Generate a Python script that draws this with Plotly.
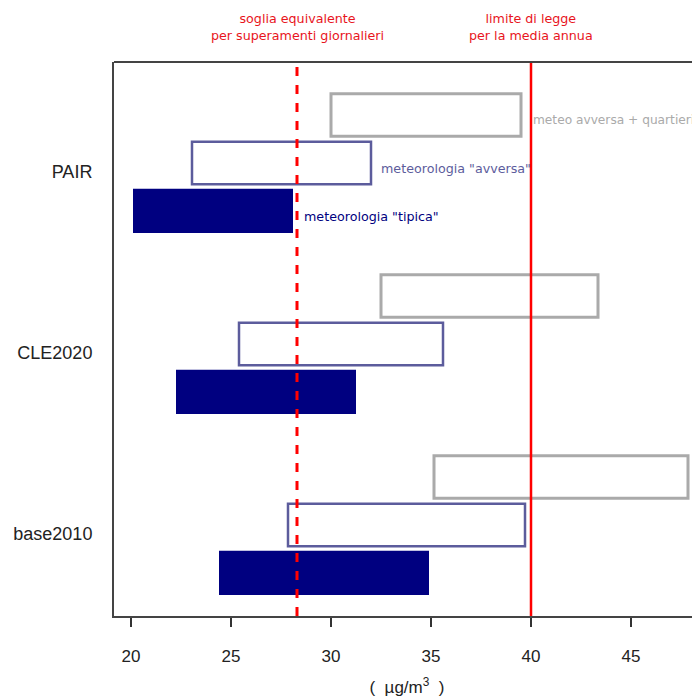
import plotly.graph_objects as go

categories = ["PAIR", "CLE2020", "base2010"]
tipica_min = [20.1, 22.25, 24.4]
tipica_max = [28.1, 31.25, 34.9]
avversa_min = [23.05, 25.4, 27.85]
avversa_max = [32.0, 35.6, 39.7]
quartieri_min = [30.0, 32.5, 35.15]
quartieri_max = [39.5, 43.35, 47.85]
soglia_giornaliera = 28.3
limite_annuo = 40
x_ticks = [20, 25, 30, 35, 40, 45]

NAVY = "#000080"
SLATE = "#5c5c9c"
GREY = "#aaaaaa"
RED = "#ff0000"
TXT_RED = "#e8141c"

pos = list(range(len(categories)))
off = 0.265
bw = 0.235

fig = go.Figure()
fig.add_trace(go.Bar(
    orientation="h", y=[p - off for p in pos], base=quartieri_min,
    x=[b - a for a, b in zip(quartieri_min, quartieri_max)], width=bw,
    marker=dict(color="white", line=dict(color=GREY, width=3)),
    name="meteo avversa + quartieri"))
fig.add_trace(go.Bar(
    orientation="h", y=pos, base=avversa_min,
    x=[b - a for a, b in zip(avversa_min, avversa_max)], width=bw,
    marker=dict(color="white", line=dict(color=SLATE, width=2.5)),
    name='meteorologia "avversa"'))
fig.add_trace(go.Bar(
    orientation="h", y=[p + off for p in pos], base=tipica_min,
    x=[b - a for a, b in zip(tipica_min, tipica_max)], width=0.245,
    marker=dict(color=NAVY, line=dict(width=0)),
    name='meteorologia "tipica"'))

fig.add_shape(type="line", x0=soglia_giornaliera, x1=soglia_giornaliera, y0=0, y1=1,
              xref="x", yref="paper", line=dict(color=RED, width=3, dash="dash"))
fig.add_shape(type="line", x0=limite_annuo, x1=limite_annuo, y0=0, y1=1,
              xref="x", yref="paper", line=dict(color=RED, width=2.5))
fig.add_shape(type="line", x0=0, x1=1, y0=1, y1=1, xref="paper", yref="paper",
              line=dict(color="#444444", width=2))

ann_font = "DejaVu Sans"
AS = 12.7
fig.add_annotation(x=soglia_giornaliera, y=1.063, xref="x", yref="paper",
                   text="soglia equivalente<br>per superamenti giornalieri",
                   showarrow=False, font=dict(family=ann_font, size=AS, color=TXT_RED),
                   xanchor="center", yanchor="middle")
fig.add_annotation(x=limite_annuo, y=1.063, xref="x", yref="paper",
                   text="limite di legge<br>per la media annua",
                   showarrow=False, font=dict(family=ann_font, size=AS, color=TXT_RED),
                   xanchor="center", yanchor="middle")
fig.add_annotation(x=40.0, y=-0.238, text="meteo avversa + quartieri", showarrow=False,
                   font=dict(family=ann_font, size=12.2, color=GREY), xanchor="left", yanchor="middle")
fig.add_annotation(x=32.4, y=0.033, text='meteorologia "avversa"', showarrow=False,
                   font=dict(family=ann_font, size=AS, color=SLATE), xanchor="left", yanchor="middle")
fig.add_annotation(x=28.55, y=0.293, text='meteorologia "tipica"', showarrow=False,
                   font=dict(family=ann_font, size=AS, color=NAVY), xanchor="left", yanchor="middle")

fig.update_layout(
    width=692, height=689,
    margin=dict(l=106, r=0, t=54, b=81),
    paper_bgcolor="white", plot_bgcolor="white",
    showlegend=False, barmode="overlay",
    font=dict(family="Liberation Sans, Arial", color="#222222"),
    xaxis=dict(range=[19.15, 48.45], tickvals=x_ticks, ticks="outside", ticklen=9,
               tickwidth=1.5, tickcolor="#333333", showgrid=False, zeroline=False,
               showline=True, linecolor="#444444", linewidth=2,
               tickfont=dict(size=17), ticklabelstandoff=15,
               title=dict(text="(  µg/m<sup>3</sup>  )", font=dict(size=17), standoff=17)),
    yaxis=dict(range=[2.503, -0.558], tickvals=[p + 0.05 for p in pos], ticktext=categories,
               showgrid=False, zeroline=False, showline=True, linecolor="#444444", linewidth=2,
               ticks="", tickfont=dict(size=18), ticklabelstandoff=16),
)

fig.write_html("out.html")
